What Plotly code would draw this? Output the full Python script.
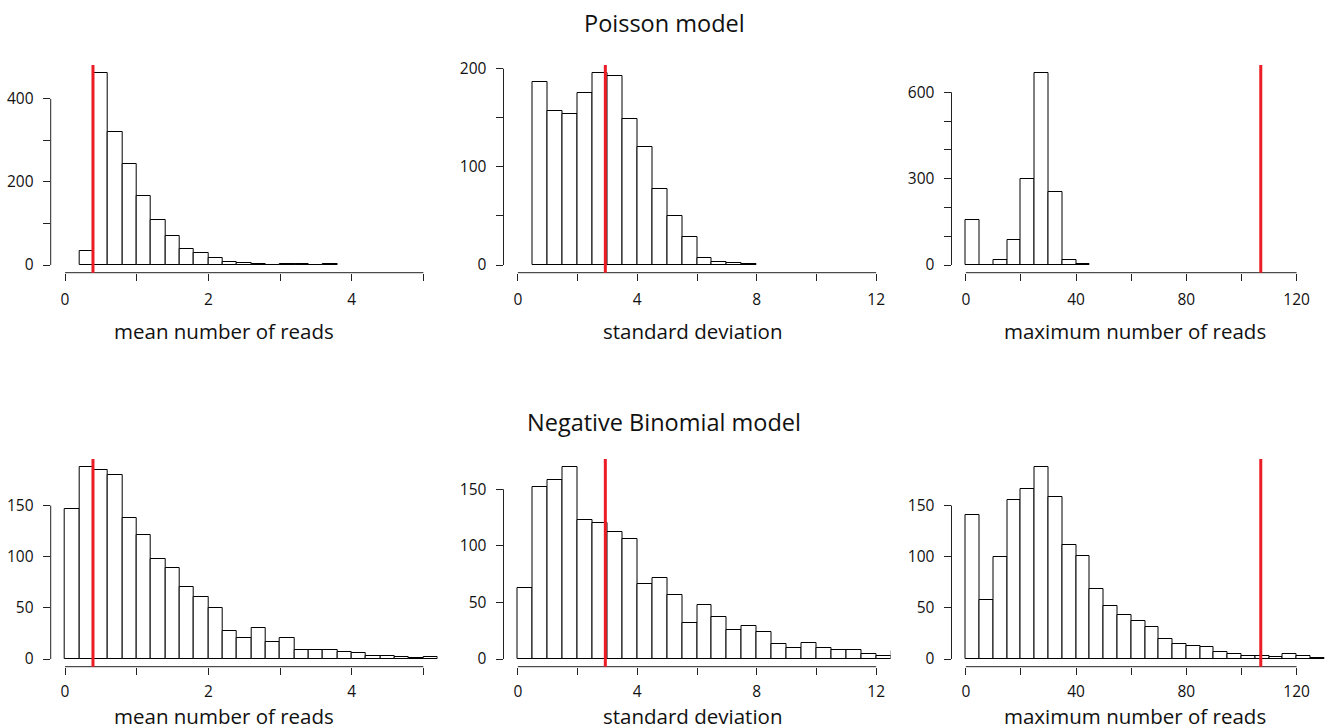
import plotly.graph_objects as go

W, H = 1328, 728

# ---------------- data ----------------
# Poisson model
pois_mean_start, pois_mean_bw = 0.2, 0.2
pois_mean_counts = [34, 463, 320, 244, 165, 109, 69, 39, 30, 16, 7, 5, 3, 1, 2, 2, 1, 2]
pois_sd_start, pois_sd_bw = 0.5, 0.5
pois_sd_counts = [187, 157, 154, 175, 196, 193, 149, 120, 77, 50, 29, 7, 3, 2, 1]
pois_max_start, pois_max_bw = 0, 5
pois_max_counts = [155, 0, 16, 88, 300, 668, 255, 16, 2]

# Negative Binomial model
nb_mean_start, nb_mean_bw = 0, 0.2
nb_mean_counts = [147, 188, 185, 180, 138, 121, 98, 89, 70, 61, 50, 27, 21, 30, 17, 21,
                  9, 9, 9, 7, 6, 3, 3, 2, 1, 2]
nb_sd_start, nb_sd_bw = 0, 0.5
nb_sd_counts = [63, 152, 158, 170, 123, 120, 112, 106, 66, 72, 57, 32, 48, 37, 26, 29,
                24, 13, 10, 14, 10, 8, 8, 4, 3, 7]
nb_max_start, nb_max_bw = 0, 5
nb_max_counts = [141, 58, 100, 155, 166, 188, 158, 111, 101, 68, 52, 43, 37, 31, 20, 15,
                 13, 12, 7, 5, 3, 3, 2, 5, 3, 1]

# observed values (red lines)
obs_mean = 0.39
obs_sd = 2.93
obs_max = 107

x_titles = ["mean number of reads", "standard deviation", "maximum number of reads"]
row_titles = ["Poisson model", "Negative Binomial model"]

# ticks
x_ticks = [[0, 1, 2, 3, 4, 5], [0, 2, 4, 6, 8, 10, 12], [0, 20, 40, 60, 80, 100, 120]]
x_ticklabels = [["0", "", "2", "", "4", ""], ["0", "", "4", "", "8", "", "12"],
                ["0", "", "40", "", "80", "", "120"]]
y_ticks_top = [[0, 100, 200, 300, 400], [0, 50, 100, 150, 200], [0, 100, 200, 300, 400, 500, 600]]
y_ticklabels_top = [["0", "", "200", "", "400"], ["0", "", "100", "", "200"],
                    ["0", "", "", "300", "", "", "600"]]
y_ticks_bot = [[0, 50, 100, 150], [0, 50, 100, 150], [0, 50, 100, 150]]
y_ticklabels_bot = [["0", "50", "100", "150"]] * 3

# x limits (R style, 4% padding added below)
xlims = [(0, 5), (0, 12), (0, 130)]

# ---------------- layout geometry (pixels) ----------------
col_left = [50.7, 503.5, 951.5]
col_right = [437.7, 890.5, 1328]
row_top = [65, 459]
row_bottom = [272.7, 666.7]
xtitle_center_px = [224, 692, 1135]
xtitle_middle_px = [331, 716]
xtick_standoff = [6, 4]
rowtitle_middle_px = [23, 422]

FONT = "Open Sans"
TXT = "#111"
AXC = "#222"
RED = "#ec1c24"

fig = go.Figure()

panels = [
    (0, 0, pois_mean_start, pois_mean_bw, pois_mean_counts, obs_mean),
    (0, 1, pois_sd_start, pois_sd_bw, pois_sd_counts, obs_sd),
    (0, 2, pois_max_start, pois_max_bw, pois_max_counts, obs_max),
    (1, 0, nb_mean_start, nb_mean_bw, nb_mean_counts, obs_mean),
    (1, 1, nb_sd_start, nb_sd_bw, nb_sd_counts, obs_sd),
    (1, 2, nb_max_start, nb_max_bw, nb_max_counts, obs_max),
]

layout = {}
shapes = []
annotations = []
for k, (r, c, start, bw, counts, obs) in enumerate(panels):
    idx = k + 1
    xa = "x" if idx == 1 else f"x{idx}"
    ya = "y" if idx == 1 else f"y{idx}"
    lefts = [start + i * bw for i in range(len(counts))]
    fig.add_trace(go.Bar(
        x=lefts, y=counts, width=[bw] * len(counts), offset=0,
        marker=dict(color="white", line=dict(color="black", width=1)),
        xaxis=xa, yaxis=ya, showlegend=False, hoverinfo="x+y",
    ))
    lo, hi = xlims[c]
    pad = 0.04 * (hi - lo)
    x0 = lo - pad
    ymax = max(counts)
    ypad = 0.04 * ymax
    if c == 2:
        # plot region runs past the canvas edge: keep the same pixel scale as a full panel
        full_w = 387.0
        px_per = full_w / ((hi - lo) * 1.08)
        x1 = x0 + (col_right[c] - col_left[c]) / px_per
    else:
        x1 = hi + pad
    yt = y_ticks_top[c] if r == 0 else y_ticks_bot[c]
    ytl = y_ticklabels_top[c] if r == 0 else y_ticklabels_bot[c]
    dom_x = [col_left[c] / W, col_right[c] / W]
    dom_y = [1 - row_bottom[r] / H, 1 - row_top[r] / H]
    tick_font = dict(family=FONT, size=15.5, color=TXT)
    layout["xaxis" if idx == 1 else f"xaxis{idx}"] = dict(
        domain=dom_x, range=[x0, x1], anchor=ya, automargin=False,
        tickmode="array", tickvals=x_ticks[c], ticktext=x_ticklabels[c],
        ticks="outside", ticklen=7, tickwidth=1, tickcolor=AXC,
        showline=False, showgrid=False, zeroline=False,
        tickfont=tick_font, ticklabelstandoff=xtick_standoff[r],
        fixedrange=True,
    )
    layout["yaxis" if idx == 1 else f"yaxis{idx}"] = dict(
        domain=dom_y, range=[-ypad, ymax + ypad], anchor=xa, automargin=False,
        tickmode="array", tickvals=yt, ticktext=ytl,
        ticks="outside", ticklen=7, tickwidth=1, tickcolor=AXC,
        showline=False, showgrid=False, zeroline=False,
        tickfont=tick_font, ticklabelstandoff=6,
        fixedrange=True,
    )
    xd = xa + " domain"
    # R-style axis lines spanning first..last tick
    shapes.append(dict(type="line", xref=xa, yref=ya + " domain", x0=x_ticks[c][0], x1=x_ticks[c][-1],
                       y0=0, y1=0, line=dict(color=AXC, width=1)))
    shapes.append(dict(type="line", xref=xd, yref=ya, x0=0, x1=0, y0=yt[0], y1=yt[-1],
                       line=dict(color=AXC, width=1)))
    # observed value
    shapes.append(dict(type="line", xref=xa, yref=ya + " domain", x0=obs, x1=obs, y0=0, y1=1,
                       line=dict(color=RED, width=3)))
    # x-axis title
    annotations.append(dict(
        text=x_titles[c], x=xtitle_center_px[c] / W, y=1 - xtitle_middle_px[r] / H,
        xref="paper", yref="paper", showarrow=False, xanchor="center", yanchor="middle",
        font=dict(family=FONT, size=20.5, color=TXT),
    ))

for r in range(2):
    annotations.append(dict(
        text=row_titles[r], x=0.5, y=1 - rowtitle_middle_px[r] / H, xref="paper", yref="paper",
        showarrow=False, font=dict(family=FONT, size=23.5, color=TXT), yanchor="middle",
    ))

fig.update_layout(
    width=W, height=H, margin=dict(l=0, r=0, t=0, b=0, autoexpand=False),
    paper_bgcolor="white", plot_bgcolor="white",
    shapes=shapes, annotations=annotations, bargap=0,
    font=dict(family=FONT, color=TXT),
    **layout,
)

fig.write_html("out.html")
